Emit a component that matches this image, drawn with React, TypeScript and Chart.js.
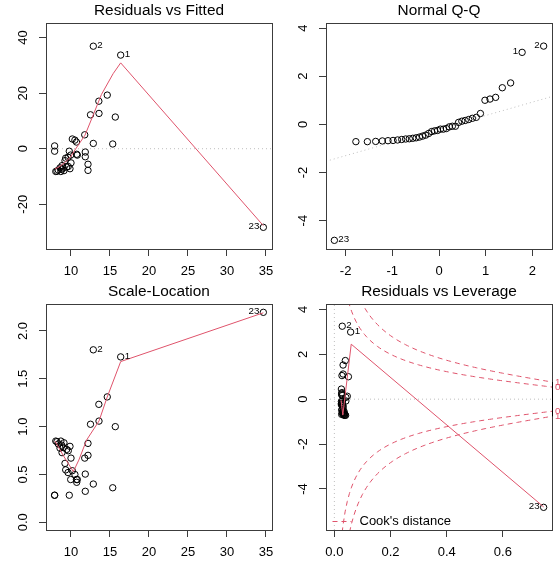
import { useEffect, useRef } from "react";
import { Chart, registerables } from "chart.js";

Chart.register(...registerables);

const FONT = "'Liberation Sans', Arial, Helvetica, sans-serif";
const RED = "#DF536B";
const GREY = "#BEBEBE";
const INK = "#000000";
const FRAME = "#3c3c3c";

// ---- per-observation diagnostics of the linear fit (observations 1..40) ----
const fittedValues = [
  16.37, 12.86, 14.65, 13.57, 12.5, 13.59, 15.68, 11.76, 10.17, 10.5,
  10.7, 12.86, 15.35, 7.9, 7.9, 9.78, 11.83, 11.83, 10.73, 10.81,
  9.96, 9.62, 34.66, 12.18, 12.18, 9.32, 9.23, 10.0, 8.85, 9.65,
  9.45, 8.59, 9.01, 9.87, 8.81, 8.37, 9.1, 8.2, 8.7, 8.05,
];
const residuals = [
  33.7, 36.9, 19.3, 17.1, 12.2, 12.7, 11.4, 5.0, 3.5, 3.1,
  2.4, 1.9, 1.7, 1.0, -0.9, -0.9, -1.2, -2.9, -2.0, -2.3,
  -2.3, -3.1, -28.3, -5.6, -7.8, -3.4, -4.3, -5.1, -6.1, -6.4,
  -6.6, -6.9, -7.0, -7.2, -7.4, -7.7, -7.9, -8.1, -8.2, -8.2,
];
const standardizedResiduals = [
  2.99, 3.25, 1.72, 1.52, 1.05, 1.12, 1.0, 0.45, 0.29, 0.25,
  0.2, 0.16, 0.13, 0.08, -0.08, -0.08, -0.105, -0.254, -0.175, -0.2,
  -0.2, -0.27, -4.82, -0.49, -0.68, -0.3, -0.38, -0.45, -0.53, -0.56,
  -0.58, -0.6, -0.61, -0.63, -0.65, -0.67, -0.69, -0.71, -0.72, -0.72,
];
const sqrtAbsStdResiduals = [
  1.729, 1.803, 1.311, 1.233, 1.025, 1.058, 1.0, 0.671, 0.539, 0.5,
  0.447, 0.4, 0.361, 0.283, 0.283, 0.283, 0.324, 0.504, 0.418, 0.447,
  0.447, 0.52, 2.195, 0.7, 0.825, 0.548, 0.616, 0.671, 0.728, 0.748,
  0.762, 0.775, 0.781, 0.794, 0.806, 0.819, 0.831, 0.843, 0.849, 0.849,
];
const leverages = [
  0.058, 0.028, 0.039, 0.031, 0.027, 0.031, 0.05, 0.025, 0.027, 0.026,
  0.026, 0.028, 0.046, 0.041, 0.041, 0.029, 0.025, 0.025, 0.026, 0.025,
  0.028, 0.029, 0.745, 0.026, 0.026, 0.031, 0.031, 0.028, 0.034, 0.029,
  0.03, 0.035, 0.032, 0.028, 0.034, 0.037, 0.032, 0.038, 0.035, 0.04,
];

// expected normal order statistics for 40 residuals
const normalQuantiles = [
  -2.241, -1.78, -1.534, -1.356, -1.213, -1.092, -0.984, -0.887, -0.798, -0.714,
  -0.636, -0.561, -0.489, -0.419, -0.352, -0.286, -0.221, -0.157, -0.094, -0.031,
  0.031, 0.094, 0.157, 0.221, 0.286, 0.352, 0.419, 0.489, 0.561, 0.636,
  0.714, 0.798, 0.887, 0.984, 1.092, 1.213, 1.356, 1.534, 1.78, 2.241,
];

// the three most extreme observations get their id printed (0-based)
const flaggedObs = [0, 1, 22];

// lowess smooths
const residSmoothX = [7.95, 8.6, 9.3, 9.96, 10.4, 11.0, 11.8, 12.9, 13.9, 15.4, 16.37, 34.66];
const residSmoothY = [-7.3, -6.3, -4.8, -2.9, -0.9, 1.6, 4.9, 12.5, 19.5, 27.0, 30.9, -27.7];
const scaleSmoothX = [7.95, 9.0, 10.3, 11.0, 12.0, 13.6, 14.6, 16.37, 34.66];
const scaleSmoothY = [0.85, 0.7, 0.53, 0.65, 0.86, 1.06, 1.3, 1.68, 2.19];
const leverageSmoothX = [0.024, 0.03, 0.06, 0.745];
const leverageSmoothY = [-0.05, -0.71, 2.45, -4.8];

// Q-Q reference line (through the quartiles)
const qqLineIntercept = -0.19;
const qqLineSlope = 0.556;

// Cook's distance contours
const cookLevels = [0.5, 1];
const modelParams = 2;

// tick labels
const fittedTicks = [10, 15, 20, 25, 30, 35];
const residTicks = [-20, 0, 20, 40];
const qqXTicks = [-2, -1, 0, 1, 2];
const qqYTicks = [-4, -2, 0, 2, 4];
const scaleTicks = [0, 0.5, 1, 1.5, 2];
const leverageTicks = [0, 0.2, 0.4, 0.6];
const leverageYTicks = [-4, -2, 0, 2, 4];

// ---- layout ----
const PANEL_W = 280;
const PANEL_H = 281;
const AXIS_W = 46;
const AXIS_H = 32;
const RIGHT_GAP = 8;
const TICK_LEN = 7;
const TICK_SIZE = 13;
const TITLE_SIZE = 15.4;
const ID_SIZE = 9.75;
const ID_GAP = 4;
const Y_LABEL_CENTER = 23;
const X_LABEL_PAD = 7.2;
const COOK_DASH = [5, 4];
const DOT_DASH = [1, 3];

type XY = { x: number; y: number };
type Tag = { x: number; y: number; text: string; right: boolean };
type CookDecor = { axisLo: number; axisHi: number };

const zip = (xs: number[], ys: number[]): XY[] => xs.map((x, i) => ({ x, y: ys[i] }));

function makeTags(points: XY[], ids: number[]): Tag[] {
  const xr = points.map((p) => p.x);
  const mid = (Math.min(...xr) + Math.max(...xr)) / 2;
  return points.map((p, k) => ({ ...p, text: String(ids[k] + 1), right: p.x <= mid }));
}

function textWidth(text: string, size: number): number {
  const ctx = document.createElement("canvas").getContext("2d")!;
  ctx.font = `${size}px ${FONT}`;
  return ctx.measureText(text).width;
}

const pointsSet = (data: XY[]) => ({
  data,
  showLine: false,
  pointRadius: 3.2,
  pointBorderWidth: 1,
  pointBorderColor: INK,
  pointBackgroundColor: "rgba(0,0,0,0)",
  pointStyle: "circle",
});

const lineSet = (data: XY[], color: string, dash: number[] = []) => ({
  data,
  showLine: true,
  pointRadius: 0,
  borderColor: color,
  borderWidth: 1,
  borderDash: dash,
  fill: false,
  tension: 0,
});

function framePlugin(tags: Tag[], cook: CookDecor | null) {
  return {
    id: "frame",
    afterDatasetsDraw(chart: any) {
      const { ctx, chartArea: a, scales } = chart;
      const xs = scales.x;
      const ys = scales.y;
      ctx.save();
      ctx.setLineDash([]);
      ctx.strokeStyle = FRAME;
      ctx.lineWidth = 1;
      ctx.strokeRect(a.left + 0.5, a.top + 0.5, a.right - a.left, a.bottom - a.top);

      ctx.fillStyle = INK;
      ctx.font = `${ID_SIZE}px ${FONT}`;
      ctx.textBaseline = "middle";
      for (const t of tags) {
        const px = xs.getPixelForValue(t.x);
        const py = ys.getPixelForValue(t.y);
        ctx.textAlign = t.right ? "left" : "right";
        ctx.fillText(t.text, px + (t.right ? ID_GAP : -ID_GAP), py - 1);
      }

      if (cook) {
        const x = a.right + 0.5;
        ctx.strokeStyle = INK;
        ctx.beginPath();
        ctx.moveTo(x, ys.getPixelForValue(cook.axisLo));
        ctx.lineTo(x, ys.getPixelForValue(cook.axisHi));
        ctx.stroke();

        const ly = a.bottom - 8.5;
        const lx = a.left + 6.5;
        ctx.strokeStyle = RED;
        ctx.setLineDash(COOK_DASH);
        ctx.beginPath();
        ctx.moveTo(lx, ly);
        ctx.lineTo(lx + 19, ly);
        ctx.stroke();
        ctx.setLineDash([]);
        ctx.font = `${TICK_SIZE}px ${FONT}`;
        ctx.textAlign = "left";
        ctx.fillStyle = INK;
        ctx.fillText("Cook's distance", lx + 27, ly);
      }
      ctx.restore();
    },
  };
}

const tickGrid = {
  drawOnChartArea: false,
  drawTicks: true,
  tickLength: TICK_LEN,
  color: FRAME,
  lineWidth: 1,
};

function xAxis(range: number[], ticks: number[], fmt: (v: number) => string) {
  return {
    type: "linear",
    position: "bottom",
    min: range[0],
    max: range[1],
    afterBuildTicks: (axis: any) => {
      axis.ticks = ticks.map((value) => ({ value }));
    },
    afterFit: (axis: any) => {
      axis.height = AXIS_H;
      axis.paddingLeft = 0;
      axis.paddingRight = 0;
    },
    grid: tickGrid,
    border: { display: false },
    ticks: {
      font: { family: FONT, size: TICK_SIZE },
      color: INK,
      padding: X_LABEL_PAD,
      minRotation: 0,
      maxRotation: 0,
      autoSkip: false,
      callback: (v: number) => fmt(v),
    },
  };
}

function yAxis(range: number[], ticks: number[], fmt: (v: number) => string) {
  const widest = Math.max(...ticks.map((t) => textWidth(fmt(t), TICK_SIZE)));
  return {
    type: "linear",
    position: "left",
    min: range[0],
    max: range[1],
    afterBuildTicks: (axis: any) => {
      axis.ticks = ticks.map((value) => ({ value }));
    },
    afterFit: (axis: any) => {
      axis.width = AXIS_W;
      axis.paddingTop = 0;
      axis.paddingBottom = 0;
    },
    grid: tickGrid,
    border: { display: false },
    ticks: {
      font: { family: FONT, size: TICK_SIZE },
      color: INK,
      padding: AXIS_W - TICK_LEN - Y_LABEL_CENTER - widest / 2,
      minRotation: 90,
      maxRotation: 90,
      crossAlign: "center",
      autoSkip: false,
      callback: (v: number) => fmt(v),
    },
  };
}

type PanelSpec = {
  title: string;
  datasets: any[];
  x: any;
  y: any;
  extraScales?: Record<string, any>;
  tags: Tag[];
  cook?: CookDecor;
};

function panelConfig(p: PanelSpec): any {
  return {
    type: "scatter",
    data: { datasets: p.datasets },
    options: {
      responsive: false,
      animation: false,
      devicePixelRatio: 1,
      events: [],
      layout: { padding: { left: 0, top: 0, bottom: 0, right: p.extraScales ? 0 : RIGHT_GAP } },
      plugins: {
        legend: { display: false },
        tooltip: { enabled: false },
        title: {
          display: true,
          text: p.title,
          color: INK,
          fullSize: false,
          font: { family: FONT, size: TITLE_SIZE, weight: "normal", lineHeight: 1.2 },
          padding: { top: 2, bottom: 2.52 },
        },
      },
      scales: { x: p.x, y: p.y, ...(p.extraScales || {}) },
    },
    plugins: [framePlugin(p.tags, p.cook || null)],
  };
}

const plain = (v: number) => String(v);
const oneDecimal = (v: number) => v.toFixed(1);

function buildPanels(): any[] {
  const fittedRange = [6.795, 35.77];

  // 1. Residuals vs Fitted
  const resRange = [-36.1, 45.25];
  const p1 = panelConfig({
    title: "Residuals vs Fitted",
    datasets: [
      lineSet(zip(residSmoothX, residSmoothY), RED),
      pointsSet(zip(fittedValues, residuals)),
      lineSet([{ x: fittedRange[0], y: 0 }, { x: fittedRange[1], y: 0 }], GREY, DOT_DASH),
    ],
    x: xAxis(fittedRange, fittedTicks, plain),
    y: yAxis(resRange, residTicks, plain),
    tags: makeTags(flaggedObs.map((i) => ({ x: fittedValues[i], y: residuals[i] })), flaggedObs),
  });

  // 2. Normal Q-Q
  const order = standardizedResiduals
    .map((_, i) => i)
    .sort((a, b) => standardizedResiduals[a] - standardizedResiduals[b]);
  const qqPoints = order.map((obs, rank) => ({ x: normalQuantiles[rank], y: standardizedResiduals[obs] }));
  const qqXRange = [-2.42, 2.42];
  const qqYRange = [-5.18, 4.21];
  const p2 = panelConfig({
    title: "Normal Q-Q",
    datasets: [
      pointsSet(qqPoints),
      lineSet(
        qqXRange.map((x) => ({ x, y: qqLineIntercept + qqLineSlope * x })),
        GREY,
        DOT_DASH
      ),
    ],
    x: xAxis(qqXRange, qqXTicks, plain),
    y: yAxis(qqYRange, qqYTicks, plain),
    tags: makeTags(flaggedObs.map((i) => qqPoints[order.indexOf(i)]), flaggedObs),
  });

  // 3. Scale-Location
  const slRange = [-0.0805, 2.282];
  const p3 = panelConfig({
    title: "Scale-Location",
    datasets: [
      lineSet(zip(scaleSmoothX, scaleSmoothY), RED),
      pointsSet(zip(fittedValues, sqrtAbsStdResiduals)),
    ],
    x: xAxis(fittedRange, fittedTicks, plain),
    y: yAxis(slRange, scaleTicks, oneDecimal),
    tags: makeTags(flaggedObs.map((i) => ({ x: fittedValues[i], y: sqrtAbsStdResiduals[i] })), flaggedObs),
  });

  // 4. Residuals vs Leverage with Cook's distance contours
  const levXRange = [-0.0298, 0.7748];
  const levYRange = [-5.83, 4.24];
  const hMax = Math.max(...leverages);
  const hFrom = Math.min(Math.min(...leverages), hMax / 100);
  const hTo = levXRange[1];
  const cookSets: any[] = [];
  for (const level of cookLevels) {
    for (const sign of [1, -1]) {
      const pts: XY[] = [];
      for (let k = 0; k <= 100; k++) {
        const h = hFrom + ((hTo - hFrom) * k) / 100;
        pts.push({ x: h, y: sign * Math.sqrt((level * modelParams * (1 - h)) / h) });
      }
      cookSets.push(lineSet(pts, RED, COOK_DASH));
    }
  }
  const edgeMult = Math.sqrt((modelParams * (1 - hTo)) / hTo);
  const cookAt = cookLevels.map((c) => Math.sqrt(c) * edgeMult);
  const cookTickValues = [...cookAt.map((v) => -v).reverse(), ...cookAt];
  const cookTickLabels = [...[...cookLevels].reverse(), ...cookLevels].map(String);

  const p4 = panelConfig({
    title: "Residuals vs Leverage",
    datasets: [
      lineSet(zip(leverageSmoothX, leverageSmoothY), RED),
      pointsSet(zip(leverages, standardizedResiduals)),
      ...cookSets,
      lineSet([{ x: levXRange[0], y: 0 }, { x: levXRange[1], y: 0 }], GREY, DOT_DASH),
      lineSet([{ x: 0, y: levYRange[0] }, { x: 0, y: levYRange[1] }], GREY, DOT_DASH),
    ],
    x: xAxis(levXRange, leverageTicks, oneDecimal),
    y: yAxis(levYRange, leverageYTicks, plain),
    extraScales: {
      yCook: {
        type: "linear",
        position: "right",
        min: levYRange[0],
        max: levYRange[1],
        afterBuildTicks: (axis: any) => {
          axis.ticks = cookTickValues.map((value) => ({ value }));
        },
        afterFit: (axis: any) => {
          axis.width = RIGHT_GAP;
          axis.paddingTop = 0;
          axis.paddingBottom = 0;
        },
        grid: { display: false, drawTicks: false },
        border: { display: false },
        ticks: {
          font: { family: FONT, size: ID_SIZE },
          color: RED,
          padding: 3,
          autoSkip: false,
          callback: (_v: number, i: number) => cookTickLabels[i],
        },
      },
    },
    tags: makeTags(flaggedObs.map((i) => ({ x: leverages[i], y: standardizedResiduals[i] })), flaggedObs),
    cook: { axisLo: -cookAt[cookAt.length - 1], axisHi: cookAt[cookAt.length - 1] },
  });

  return [p1, p2, p3, p4];
}

const SLOTS = [
  [0, 0],
  [PANEL_W, 0],
  [0, PANEL_H],
  [PANEL_W, PANEL_H],
];

export default function App() {
  const c0 = useRef<HTMLCanvasElement>(null);
  const c1 = useRef<HTMLCanvasElement>(null);
  const c2 = useRef<HTMLCanvasElement>(null);
  const c3 = useRef<HTMLCanvasElement>(null);
  const refs = [c0, c1, c2, c3];

  useEffect(() => {
    const configs = buildPanels();
    const charts = refs.map((r, i) => new Chart(r.current as HTMLCanvasElement, configs[i]));
    return () => charts.forEach((c) => c.destroy());
  }, []);

  return (
    <div style={{ position: "absolute", left: 0, top: 0, width: PANEL_W * 2, height: PANEL_H * 2, background: "#fff" }}>
      {SLOTS.map(([left, top], i) => (
        <canvas
          key={i}
          ref={refs[i]}
          width={PANEL_W}
          height={PANEL_H}
          style={{ position: "absolute", left, top, width: PANEL_W, height: PANEL_H }}
        />
      ))}
    </div>
  );
}
